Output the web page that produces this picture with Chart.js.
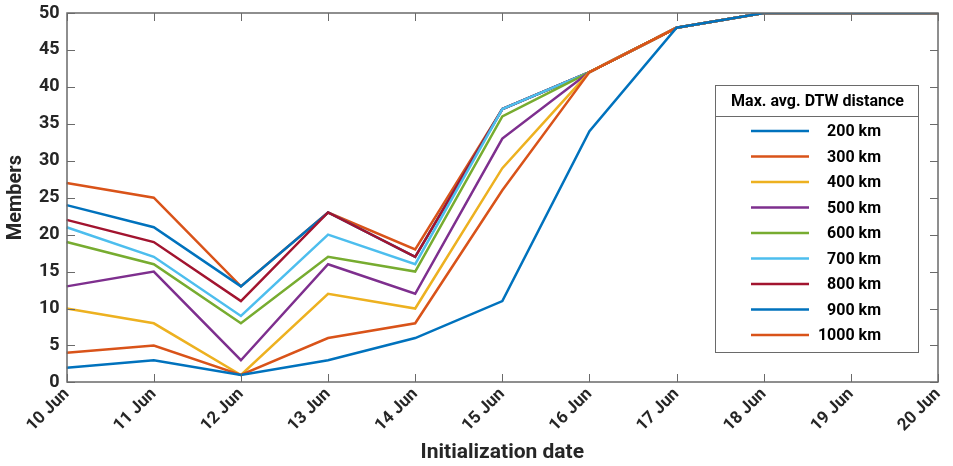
<!DOCTYPE html>
<html>
<head>
<meta charset="utf-8">
<script src="https://cdn.jsdelivr.net/npm/chart.js@4.4.1/dist/chart.umd.min.js"></script>
<style>
  html, body { margin: 0; padding: 0; background: #fff; }
  #wrap { width: 953px; height: 466px; }
</style>
</head>
<body>
<div id="wrap"><canvas id="membersChart" width="953" height="466"></canvas></div>
<script>
// data
const dates = ['10 Jun', '11 Jun', '12 Jun', '13 Jun', '14 Jun', '15 Jun', '16 Jun', '17 Jun', '18 Jun', '19 Jun', '20 Jun'];
const distances = ['200 km', '300 km', '400 km', '500 km', '600 km', '700 km', '800 km', '900 km', '1000 km'];
const km200  = [2, 3, 1, 3, 6, 11, 34, 48, 50, 50, 50];
const km300  = [4, 5, 1, 6, 8, 26, 42, 48, 50, 50, 50];
const km400  = [10, 8, 1, 12, 10, 29, 42, 48, 50, 50, 50];
const km500  = [13, 15, 3, 16, 12, 33, 42, 48, 50, 50, 50];
const km600  = [19, 16, 8, 17, 15, 36, 42, 48, 50, 50, 50];
const km700  = [21, 17, 9, 20, 16, 37, 42, 48, 50, 50, 50];
const km800  = [22, 19, 11, 23, 17, 37, 42, 48, 50, 50, 50];
const km900  = [24, 21, 13, 23, 17, 37, 42, 48, 50, 50, 50];
const km1000 = [27, 25, 13, 23, 18, 37, 42, 48, 50, 50, 50];
const seriesValues = [km200, km300, km400, km500, km600, km700, km800, km900, km1000];
const yTicks = [0, 5, 10, 15, 20, 25, 30, 35, 40, 45, 50];

const colors = ['#0072BD', '#D95319', '#EDB120', '#7E2F8E', '#77AC30', '#4DBEEE', '#A2142F', '#0072BD', '#D95319'];
const axisColor = '#262626';
const frameColor = '#6a6a6a';

// box + inward ticks on all four sides, like the matlab axes
const framePlugin = {
    id: 'frame',
    afterDraw(chart) {
        const { ctx, chartArea: a, scales } = chart;
        const l = Math.round(a.left), r = Math.round(a.right);
        const t = Math.round(a.top), b = Math.round(a.bottom);
        ctx.save();
        ctx.strokeStyle = frameColor;
        ctx.lineWidth = 1.5;
        ctx.strokeRect(l, t, r - l, b - t);
        ctx.lineWidth = 1;
        ctx.beginPath();
        scales.x.ticks.forEach((tk, i) => {
            const x = Math.round(scales.x.getPixelForTick(i)) + 0.5;
            ctx.moveTo(x, b); ctx.lineTo(x, b - 8);
            ctx.moveTo(x, t); ctx.lineTo(x, t + 8);
        });
        scales.y.ticks.forEach((tk, i) => {
            const y = Math.round(scales.y.getPixelForTick(i)) + 0.5;
            ctx.moveTo(l, y); ctx.lineTo(l + 8, y);
            ctx.moveTo(r, y); ctx.lineTo(r - 8, y);
        });
        ctx.stroke();
        ctx.restore();
    }
};

// legend box with title, drawn inside the plot
const legendBoxPlugin = {
    id: 'legendBox',
    afterDraw(chart) {
        const { ctx } = chart;
        const x0 = 715, y0 = 85, w = 203, h = 267, titleH = 31, rowH = 25.5;
        ctx.save();
        ctx.fillStyle = '#fff';
        ctx.fillRect(x0, y0, w, h);
        ctx.strokeStyle = frameColor;
        ctx.lineWidth = 1;
        ctx.strokeRect(x0 + 0.5, y0 + 0.5, w, h);
        ctx.beginPath();
        ctx.moveTo(x0, y0 + titleH + 0.5); ctx.lineTo(x0 + w, y0 + titleH + 0.5);
        ctx.stroke();
        ctx.fillStyle = '#000';
        ctx.font = 'bold 16px Roboto';
        ctx.textAlign = 'center';
        ctx.textBaseline = 'middle';
        ctx.fillText('Max. avg. DTW distance', x0 + w / 2 + 1, y0 + titleH / 2 + 1);
        chart.data.datasets.forEach((ds, i) => {
            const y = y0 + titleH + 15 + i * rowH;
            ctx.strokeStyle = ds.borderColor;
            ctx.lineWidth = 2.5;
            ctx.beginPath();
            ctx.moveTo(x0 + 36, y); ctx.lineTo(x0 + 94, y);
            ctx.stroke();
            ctx.fillStyle = '#000';
            ctx.textAlign = 'right';
            ctx.fillText(ds.label, x0 + 166, y + 1);
        });
        ctx.restore();
    }
};

const ctx = document.getElementById('membersChart').getContext('2d');
const membersChart = new Chart(ctx, {
    type: 'line',
    data: {
        labels: dates,
        datasets: distances.map((d, i) => ({
            label: d,
            data: seriesValues[i],
            borderColor: colors[i],
            backgroundColor: colors[i],
            borderWidth: 2.5,
            pointRadius: 0,
            tension: 0,
            fill: false
        }))
    },
    options: {
        responsive: false,
        animation: false,
        layout: { padding: { left: 4, right: 15, top: 13, bottom: 0 } },
        plugins: {
            legend: { display: false },
            tooltip: { enabled: false }
        },
        scales: {
            x: {
                offset: false,
                afterFit(scale) { scale.paddingLeft = 0; scale.paddingRight = 0; },
                grid: { display: false, drawTicks: false },
                border: { display: false },
                ticks: {
                    color: axisColor,
                    font: { family: 'Roboto', size: 17, weight: 'bold' },
                    minRotation: 45,
                    maxRotation: 45,
                    padding: 2,
                    autoSkip: false
                },
                title: {
                    display: true,
                    text: 'Initialization date',
                    color: axisColor,
                    font: { family: 'Roboto', size: 21, weight: 'bold' },
                    padding: { top: 2, bottom: 1 }
                }
            },
            y: {
                min: 0,
                max: 50,
                afterBuildTicks(axis) { axis.ticks = yTicks.map(v => ({ value: v })); },
                afterFit(scale) { scale.paddingTop = 0; scale.paddingBottom = 0; },
                grid: { display: false, drawTicks: false },
                border: { display: false },
                ticks: {
                    color: axisColor,
                    font: { family: 'Roboto', size: 18, weight: 'bold', lineHeight: 1 },
                    padding: 7
                },
                title: {
                    display: true,
                    text: 'Members',
                    color: axisColor,
                    font: { family: 'Roboto', size: 20, weight: 'bold' },
                    padding: { top: 0, bottom: 4 }
                }
            }
        }
    },
    plugins: [framePlugin, legendBoxPlugin]
});
</script>
</body>
</html>
